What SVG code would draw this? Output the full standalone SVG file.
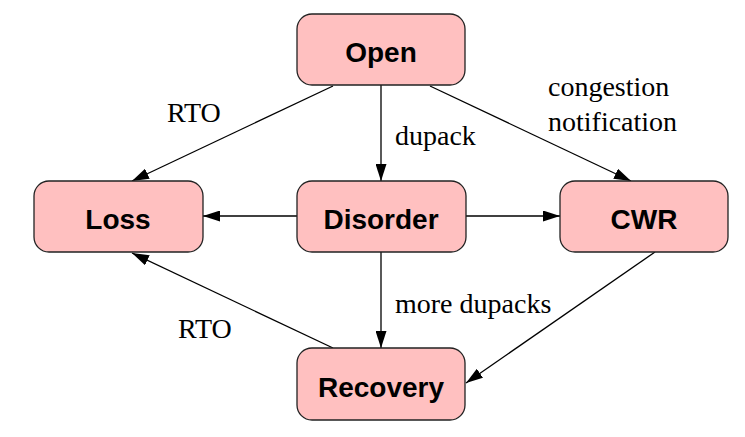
<svg xmlns="http://www.w3.org/2000/svg" width="745" height="437" viewBox="0 0 745 437">
<defs>
<marker id="ah" markerWidth="17" markerHeight="11" refX="17" refY="5.5" orient="auto" markerUnits="userSpaceOnUse">
<path d="M0,0 L17,5.5 L0,11 Z" fill="#000"/>
</marker>
<style>
.node rect{fill:#ffc0c0;stroke:#222;stroke-width:1.3}
.node text{font-family:"Liberation Sans",Arial,sans-serif;font-weight:bold;font-size:28px;text-anchor:middle;fill:#000}
.lbl{font-family:"Liberation Serif","Times New Roman",serif;font-size:28px;fill:#000}
#edges line{stroke:#000;stroke-width:1.3;marker-end:url(#ah)}
</style>
</defs>
<rect width="745" height="437" fill="#fff"/>
<g id="edges">
<line x1="333" y1="86" x2="132" y2="181"/>
<line x1="381" y1="85" x2="381" y2="181"/>
<line x1="430" y1="86" x2="631" y2="181"/>
<line x1="297" y1="216" x2="203" y2="216"/>
<line x1="466" y1="216" x2="560" y2="216"/>
<line x1="381" y1="252" x2="381" y2="348"/>
<line x1="333" y1="348" x2="132" y2="253"/>
<line x1="655" y1="252" x2="466" y2="383"/>
</g>
<g id="open" class="node"><rect x="297" y="14" width="168" height="71" rx="15"/><text x="381" y="62">Open</text></g>
<g id="loss" class="node"><rect x="34" y="181" width="169" height="71" rx="15"/><text x="118" y="229">Loss</text></g>
<g id="disorder" class="node"><rect x="297" y="181" width="169" height="71" rx="15"/><text x="381" y="229">Disorder</text></g>
<g id="cwr" class="node"><rect x="560" y="181" width="168" height="71" rx="15"/><text x="644" y="229">CWR</text></g>
<g id="recovery" class="node"><rect x="297" y="348" width="168" height="72" rx="15"/><text x="381" y="397">Recovery</text></g>
<g id="labels">
<text class="lbl" x="167" y="122">RTO</text>
<text class="lbl" x="395" y="145">dupack</text>
<text class="lbl" x="548" y="96">congestion</text>
<text class="lbl" x="548" y="131">notification</text>
<text class="lbl" x="395" y="313">more dupacks</text>
<text class="lbl" x="178" y="338">RTO</text>
</g>
</svg>
